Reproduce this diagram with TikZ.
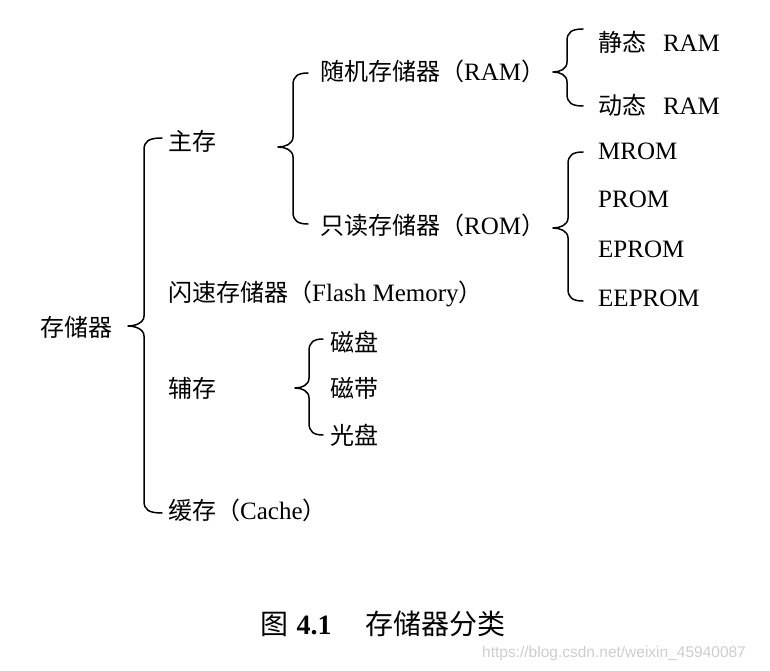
\documentclass[tikz,border=0pt]{standalone}
\usepackage{fontspec}
\setmainfont{Liberation Serif}
\newfontfamily\cjk{Noto Sans CJK SC}
\newfontfamily\wmfont{Liberation Sans}
\definecolor{wmgray}{RGB}{205,205,205}
\newcommand\lat[1]{{\rmfamily\fontsize{25}{28}\selectfont #1}}
% brace: xend, xvert, xtip, ytop, ytip, ybot
\newcommand\mybrace[6]{%
  \draw[bracestyle] (#1,#4) .. controls (#2+5,#4) and (#2,#4+3) .. (#2,#4+12)
    -- (#2,#5-10) .. controls (#2,#5-3) and (#3+7,#5) .. (#3,#5)
    .. controls (#3+7,#5) and (#2,#5+3) .. (#2,#5+10)
    -- (#2,#6-12) .. controls (#2,#6-3) and (#2+5,#6) .. (#1,#6);}
\begin{document}
\begin{tikzpicture}[x=1pt,y=-1pt,
  bracestyle/.style={line width=1.5pt,line cap=round,line join=round},
  lbl/.style={anchor=west,inner sep=0pt,font=\cjk\fontsize{24}{28}\selectfont},
  captionstyle/.style={anchor=west,inner sep=0pt,font=\cjk\fontsize{28}{32}\selectfont}]
\useasboundingbox (0,0) rectangle (770,671);
% texts
\node[lbl] (root) at (40,327) {存储器};
\node[lbl] (zhu) at (168,141) {主存};
\node[lbl] (flash) at (168,294) {闪速存储器（\lat{Flash Memory}）};
\node[lbl] (fu) at (168,388) {辅存};
\node[lbl] (cache) at (168,510) {缓存（\lat{Cache}）};
\node[lbl] (ram) at (320,71) {随机存储器（\lat{RAM}）};
\node[lbl] (rom) at (320,225) {只读存储器（\lat{ROM}）};
\node[lbl] (sram) at (598,42) {静态\hspace{0.7em}\lat{RAM}};
\node[lbl] (dram) at (598,105) {动态\hspace{0.7em}\lat{RAM}};
\node[lbl] (mrom) at (598,151) {\lat{MROM}};
\node[lbl] (prom) at (598,199) {\lat{PROM}};
\node[lbl] (eprom) at (598,249) {\lat{EPROM}};
\node[lbl] (eeprom) at (598,298) {\lat{EEPROM}};
\node[lbl] (cipan) at (330,342) {磁盘};
\node[lbl] (cidai) at (330,388) {磁带};
\node[lbl] (guang) at (330,435) {光盘};
\node[captionstyle] (caption) at (260,624) {图\hspace{0.3em}{\rmfamily\bfseries 4.1}\hspace{1.2em}存储器分类};
\node[anchor=west,inner sep=0pt,text=wmgray,font=\wmfont\fontsize{15.5}{18}\selectfont] (wm) at (482,653) {https://blog.csdn.net/weixin\_45940087};
% braces
\mybrace{162}{144}{128}{138}{326}{513}
\mybrace{308}{293}{278}{73}{147}{224}
\mybrace{583}{567}{553}{29}{72}{106}
\mybrace{583}{568}{553}{152}{228}{301}
\mybrace{323}{309}{295}{339}{388}{435}
\end{tikzpicture}
\end{document}
